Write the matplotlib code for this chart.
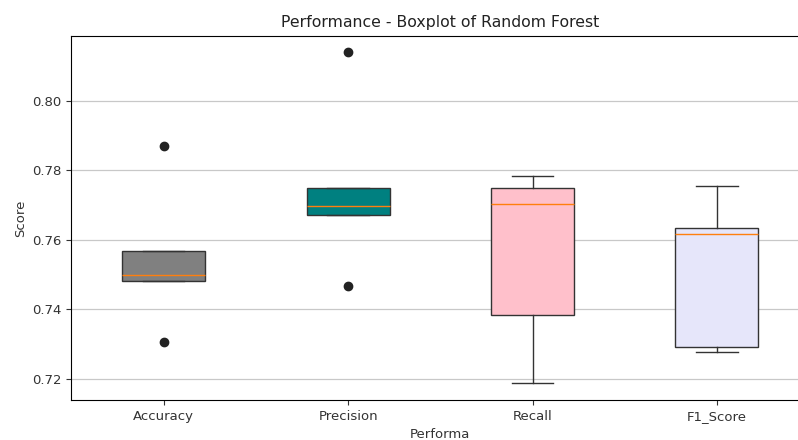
import matplotlib
matplotlib.use('Agg')
import matplotlib.pyplot as plt
import numpy as np

# scores per fold
metrics = ['Accuracy', 'Precision', 'Recall', 'F1_Score']
accuracy = [0.7304, 0.7482, 0.7499, 0.7568, 0.7869]
precision = [0.7465, 0.7670, 0.7698, 0.7749, 0.8139]
recall = [0.7186, 0.7383, 0.7702, 0.7749, 0.7783]
f1_score = [0.7276, 0.7291, 0.7617, 0.7633, 0.7755]
colors = ['gray', 'teal', 'pink', 'lavender']

fig = plt.figure(figsize=(7.98, 4.4), dpi=100)
ax = fig.add_axes([0.0895, 0.0909, 0.9245, 0.828])

bp = ax.boxplot([accuracy, precision, recall, f1_score], widths=0.45,
                patch_artist=True,
                flierprops=dict(marker='o', markerfacecolor='#222222',
                                markeredgecolor='#222222', markersize=6),
                boxprops=dict(color='#333333'),
                whiskerprops=dict(color='#333333'),
                capprops=dict(color='#333333'),
                medianprops=dict(color='#ff7f0e'))
for patch, c in zip(bp['boxes'], colors):
    patch.set_facecolor(c)

ax.set_xticks(np.arange(1, 5))
ax.set_xticklabels(metrics)
ax.set_yticks([0.72, 0.74, 0.76, 0.78, 0.80])
ax.yaxis.grid(True, color='#c8c8c8', lw=0.9)
ax.set_axisbelow(True)
ax.spines['right'].set_visible(False)
ax.tick_params(labelsize=9.5, colors='#333333')

ax.set_title('Performance - Boxplot of Random Forest', fontsize=11.3, color='#222222')
ax.set_xlabel('Performa', fontsize=9.5, color='#333333')
ax.set_ylabel('Score', fontsize=9.5, color='#333333')

plt.savefig('out.png', dpi=100)
